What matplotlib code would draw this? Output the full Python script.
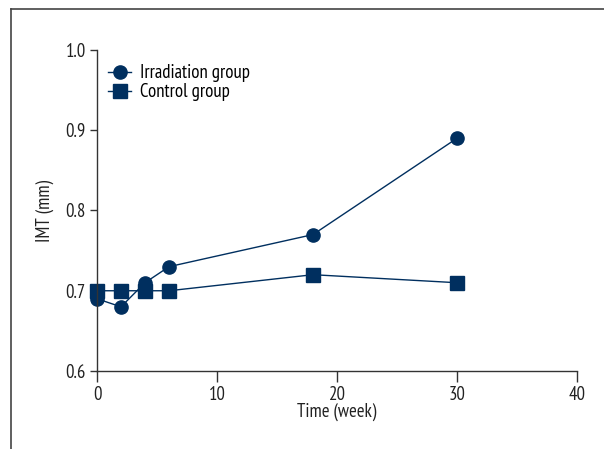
import matplotlib.pyplot as plt
from matplotlib.lines import Line2D

# IMT over time, two groups
weeks = [0, 2, 4, 6, 18, 30]
irradiation = [0.69, 0.68, 0.71, 0.73, 0.77, 0.89]
control = [0.70, 0.70, 0.70, 0.70, 0.72, 0.71]

navy = '#002f5f'
axis_col = '#333333'
txt_col = '#222222'
fs = 13.5

plt.rcParams['font.family'] = ['PT Sans Narrow', 'DejaVu Sans']

fig = plt.figure(figsize=(6.04, 4.49), dpi=100)
ax = fig.add_axes([0.1606, 0.1737, 0.7947, 0.715])

ax.plot(weeks, irradiation, '-o', color=navy, lw=1, ms=9.5, label='Irradiation group')
ax.plot(weeks, control, '-s', color=navy, lw=1, ms=9.5, label='Control group')

ax.set_xlim(0, 40)
ax.set_ylim(0.6, 1.0)
ax.set_xticks([0, 10, 20, 30, 40])
ax.set_yticks([0.6, 0.7, 0.8, 0.9, 1.0])
ax.set_yticklabels(['0.6', '0.7', '0.8', '0.9', '1.0'])

for s in ['top', 'right']:
    ax.spines[s].set_visible(False)
for s in ['left', 'bottom']:
    ax.spines[s].set_color(axis_col)
    ax.spines[s].set_linewidth(1)
ax.tick_params(axis='x', length=8, width=1, color=axis_col, labelsize=fs, labelcolor=txt_col, pad=3)
ax.tick_params(axis='y', length=5, width=1, color=axis_col, labelsize=fs, labelcolor=txt_col, pad=3)

ax.set_xlabel('Time (week)', fontsize=fs, color=txt_col, labelpad=-1)
ax.set_ylabel('IMT (mm)', fontsize=fs, color=txt_col, labelpad=8)

for line in ax.lines:
    line.set_clip_on(False)

ax.legend(loc='upper left', bbox_to_anchor=(0.0, 0.99), frameon=False, fontsize=fs,
          handlelength=1.2, handletextpad=0.5, labelspacing=0.05, borderaxespad=0.2)

# frame lines around the figure
fig.add_artist(Line2D([0.0185, 0.0185], [0.0, 0.98], color='#444444', lw=1.2))
fig.add_artist(Line2D([0.0185, 1.0], [0.98, 0.98], color='#444444', lw=1.2))

fig.savefig('out.png', dpi=100)
